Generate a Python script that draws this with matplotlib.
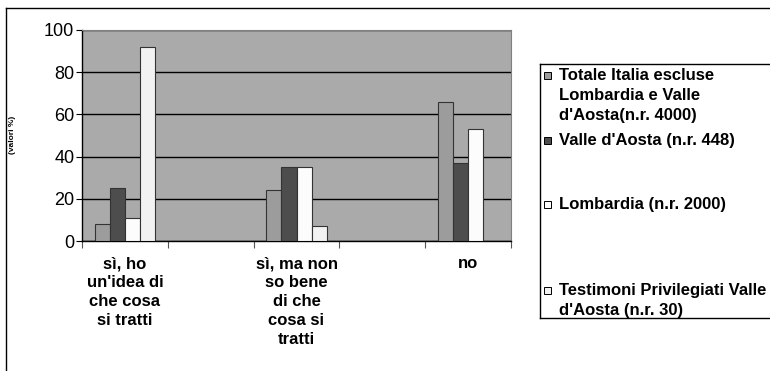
import numpy as np
import matplotlib
matplotlib.use("Agg")
import matplotlib.pyplot as plt
from matplotlib.patches import Rectangle
from matplotlib.lines import Line2D

plt.rcParams['font.family'] = ['Liberation Sans', 'DejaVu Sans']

# Categories (Excel-style layout with blank spacer categories)
categories = [
    "sì, ho\nun'idea di\nche cosa\nsi tratti",
    "",
    "sì, ma non\nso bene\ndi che\ncosa si\ntratti",
    "",
    "no",
]
series_names = [
    "Totale Italia escluse\nLombardia e Valle\nd'Aosta(n.r. 4000)",
    "Valle d'Aosta (n.r. 448)",
    "Lombardia (n.r. 2000)",
    "Testimoni Privilegiati Valle\nd'Aosta (n.r. 30)",
]
totale_italia = [8, None, 24, None, 66]
valle_aosta = [25, None, 35, None, 37]
lombardia = [11, None, 35, None, 53]
testimoni = [92, None, 7, None, 0]
series_values = [totale_italia, valle_aosta, lombardia, testimoni]

colors = ['#9c9c9c', '#4d4d4d', '#fcfcfc', '#f2f2f2']
yticks = [0, 20, 40, 60, 80, 100]

fig = plt.figure(figsize=(7.7, 3.71), dpi=100)
W, H = 770, 371


def fx(px):
    return px / W


def fy(py):
    return 1 - py / H


ax = fig.add_axes([fx(82), fy(241), fx(511) - fx(82), fy(30) - fy(241)])
ax.set_facecolor('#aaaaaa')

x = np.arange(len(categories))
w = 0.175
for i, (vals, col) in enumerate(zip(series_values, colors)):
    xs = [xi + (i - 1.5) * w for xi, v in zip(x, vals) if v]
    hs = [v for v in vals if v]
    ax.bar(xs, hs, width=w, color=col, edgecolor='#333333',
           linewidth=0.8, zorder=3)

ax.set_xlim(-0.5, len(categories) - 0.5)
ax.set_ylim(0, 100)
ax.set_yticks(yticks)
ax.tick_params(axis='y', labelsize=13, length=4, width=0.8, pad=1.5)
ax.yaxis.grid(True, color='black', linewidth=1)
ax.set_axisbelow(True)

# tick marks on category boundaries, labels at centers
ax.set_xticks(np.arange(-0.5, len(categories), 1.0))
ax.set_xticklabels([])
ax.tick_params(axis='x', which='major', length=5, width=0.8, color='#555555')
ax.set_xticks(x, minor=True)
ax.set_xticklabels(categories, minor=True, fontsize=12, fontweight='bold',
                   linespacing=1.32, va='top')
ax.tick_params(axis='x', which='minor', length=0, pad=11)

for side in ['top', 'right']:
    ax.spines[side].set_color('#808080')
for side in ['left', 'bottom']:
    ax.spines[side].set_color('black')
    ax.spines[side].set_linewidth(1)

fig.text(fx(13), fy(135), "(valori %)", rotation=90, fontsize=6,
         fontweight='bold', ha='center', va='center')

# outer chart frame
fig.add_artist(Line2D([fx(6), fx(6)], [fy(8), 0], color='black', lw=1))
fig.add_artist(Line2D([fx(6), 1], [fy(8), fy(8)], color='black', lw=1))

# legend box
fig.add_artist(Line2D([fx(540), fx(540)], [fy(64), fy(318)], color='black', lw=1))
fig.add_artist(Line2D([fx(540), 1], [fy(64), fy(64)], color='black', lw=1))
fig.add_artist(Line2D([fx(540), 1], [fy(318), fy(318)], color='black', lw=1))

legend_y = [75, 140, 204, 290]
for name, col, ly in zip(series_names, colors, legend_y):
    fig.add_artist(Rectangle((fx(544), fy(ly + 3.5)), fx(7), 7 / H,
                             facecolor=col, edgecolor='black', lw=0.7))
    top = ly - 7 if '\n' in name else ly
    fig.text(fx(559), fy(top), name, fontsize=12, fontweight='bold',
             ha='left', va='top' if '\n' in name else 'center',
             linespacing=1.4)

fig.savefig("out.png", dpi=100)
